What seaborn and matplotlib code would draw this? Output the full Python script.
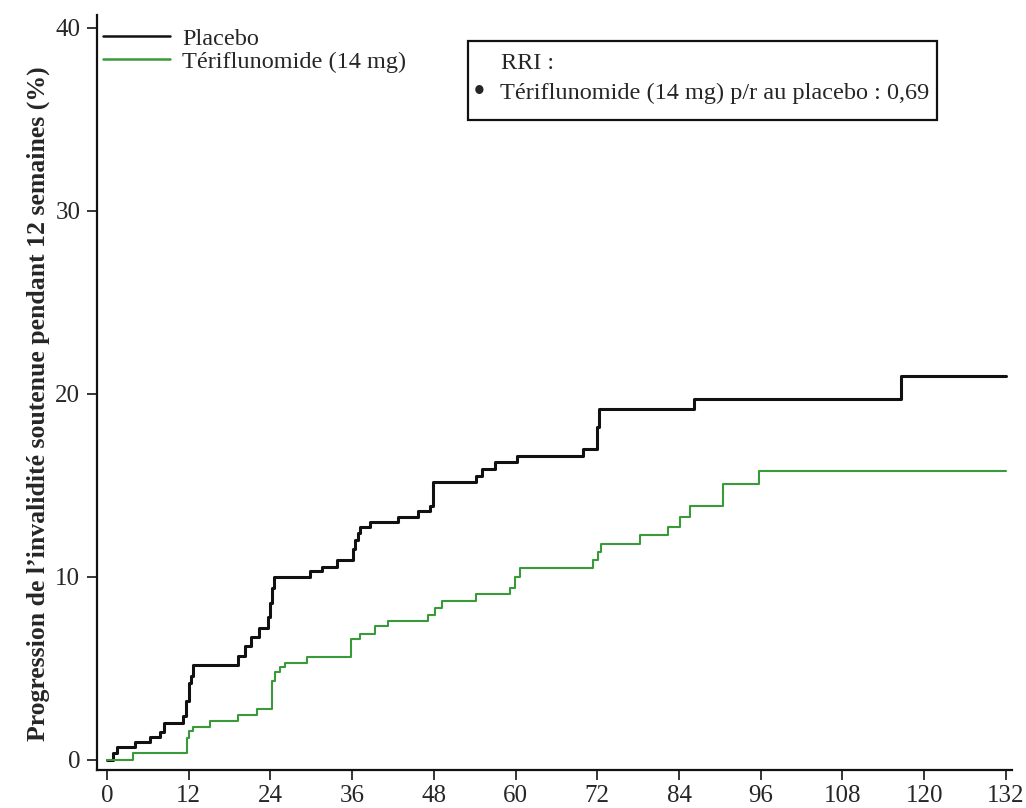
import numpy as np
import pandas as pd
import matplotlib
matplotlib.use('Agg')
import matplotlib.pyplot as plt
from matplotlib.patches import Rectangle
import seaborn as sns

# ── Data ──────────────────────────────────────────────────────────────────────
placebo_t = [0, 0.9, 1.5, 4.1, 6.3, 7.8, 8.4, 11.2, 11.6, 12.0, 12.3, 12.6,
             19.2, 20.2, 21.2, 22.3, 23.6, 23.9, 24.2, 24.5, 29.8, 31.6, 33.8,
             36.1, 36.4, 36.8, 37.2, 38.6, 42.7, 45.7, 47.4, 47.9, 54.2, 55.0,
             57.0, 60.2, 69.9, 72.0, 72.3, 86.2, 116.6, 132]
placebo_v = [0, 0.4, 0.7, 1.0, 1.25, 1.5, 2.0, 2.4, 3.2, 4.2, 4.6, 5.2,
             5.7, 6.2, 6.7, 7.2, 7.8, 8.6, 9.4, 10.0, 10.3, 10.55, 10.9,
             11.5, 12.0, 12.4, 12.7, 13.0, 13.3, 13.6, 13.9, 15.2, 15.5, 15.9,
             16.3, 16.6, 17.0, 18.2, 19.2, 19.7, 21.0, 21.0]

teri_t = [0, 3.8, 11.7, 12.1, 12.6, 15.1, 19.2, 22.0, 24.2, 24.7, 25.4, 26.1,
          29.4, 35.9, 37.2, 39.4, 41.3, 47.2, 48.2, 49.2, 54.2, 59.2, 59.9,
          60.7, 71.4, 72.1, 72.6, 78.3, 82.4, 84.2, 85.6, 90.4, 95.8, 132]
teri_v = [0, 0.4, 1.2, 1.6, 1.8, 2.1, 2.45, 2.8, 4.3, 4.8, 5.1, 5.3,
          5.6, 6.6, 6.9, 7.3, 7.6, 7.9, 8.3, 8.7, 9.05, 9.4, 10.0,
          10.5, 10.9, 11.35, 11.8, 12.3, 12.7, 13.3, 13.9, 15.1, 15.8, 15.8]

groups = ['Placebo', 'Tériflunomide (14 mg)']
x_ticks = list(range(0, 133, 12))
y_ticks = [0, 10, 20, 30, 40]

COLORS = {'Placebo': '#111111', 'Tériflunomide (14 mg)': '#3a9a3a'}
SERIF = 'Liberation Serif'

df = pd.concat([
    pd.DataFrame({'t': placebo_t, 'v': placebo_v, 'grp': groups[0]}),
    pd.DataFrame({'t': teri_t, 'v': teri_v, 'grp': groups[1]}),
])

sns.set_style('white')
plt.rcParams['font.family'] = [SERIF, 'DejaVu Serif']

fig = plt.figure(figsize=(10.26, 8.08), dpi=100)
ax = fig.add_axes([97 / 1026, 38 / 808, 915 / 1026, 755 / 808])

sns.lineplot(data=df, x='t', y='v', hue='grp', palette=COLORS,
             drawstyle='steps-post', estimator=None, sort=False,
             linewidth=1.8, ax=ax)
for line, w in zip(ax.get_lines(), [2.2, 1.5]):
    line.set_linewidth(w)

ax.set_xlim(-1.47, 132.9)
ax.set_ylim(-0.55, 40.7)
ax.set_xticks(x_ticks)
ax.set_yticks(y_ticks)
ax.tick_params(direction='out', length=7, width=1.3, labelsize=18,
               left=True, bottom=True)
ax.tick_params(axis='y', pad=5)
ax.tick_params(axis='x', pad=4)
for s in ['top', 'right']:
    ax.spines[s].set_visible(False)
for s in ['left', 'bottom']:
    ax.spines[s].set_linewidth(1.6)
    ax.spines[s].set_color('#111111')

ax.set_xlabel('')
ax.set_ylabel("Progression de l\u2019invalidité soutenue pendant 12 semaines (%)",
              fontsize=18.5, fontweight='bold')
ax.yaxis.set_label_coords(-0.051, 0.485)

handles, labels = ax.get_legend_handles_labels()
ax.legend(handles, labels, loc='upper left', bbox_to_anchor=(-0.004, 0.996),
          frameon=False, fontsize=17.5, handlelength=2.75, handletextpad=0.5,
          borderaxespad=0, labelspacing=0.05)

# RRI box
ax.add_patch(Rectangle((0.405, 0.861), 0.513, 0.105, transform=ax.transAxes,
                       fill=False, edgecolor='#111111', linewidth=1.6,
                       clip_on=False))
ax.text(0.441, 0.936, 'RRI :', transform=ax.transAxes, fontsize=17.5,
        va='center', ha='left')
ax.text(0.4115, 0.898, '\u2022', transform=ax.transAxes, fontsize=22,
        fontweight='bold', va='center', ha='left')
ax.text(0.4406, 0.896, 'Tériflunomide (14 mg) p/r au placebo : 0,69',
        transform=ax.transAxes, fontsize=17.5, va='center', ha='left')

plt.savefig('out.png', dpi=100, facecolor='white')
plt.close()
